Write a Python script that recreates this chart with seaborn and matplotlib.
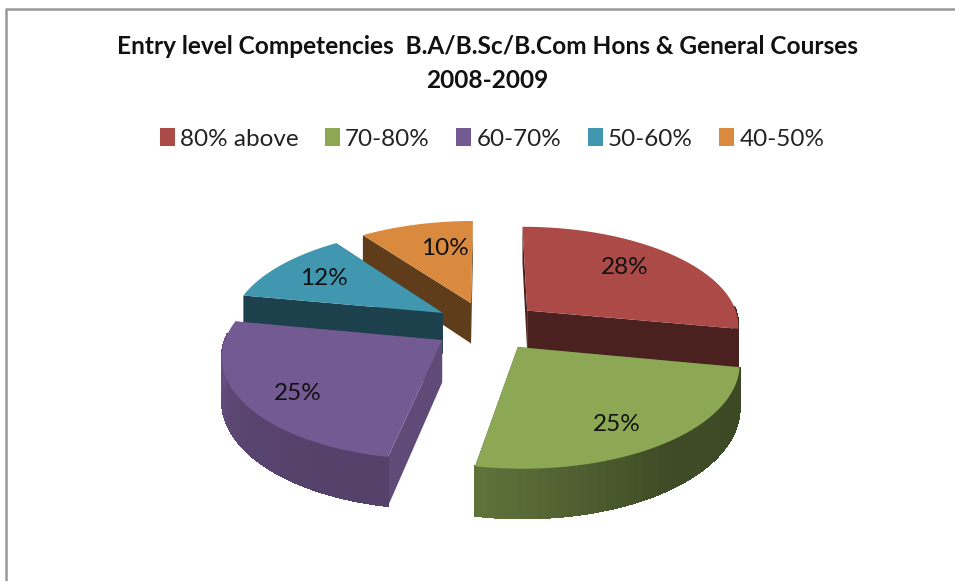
import numpy as np
import matplotlib
matplotlib.use("Agg")
import matplotlib.pyplot as plt
from matplotlib.patches import Patch, Polygon
import seaborn as sns

# chart data
categories = ["80% above", "70-80%", "60-70%", "50-60%", "40-50%"]
percents = [28, 25, 25, 12, 10]
colors = ["#AB4A47", "#8CA855", "#745A92", "#4197B0", "#D98A3E"]
title_lines = ["Entry level Competencies  B.A/B.Sc/B.Com Hons & General Courses", "2008-2009"]

# fake 3d pie setup, in pixels of the figure
cx, cy = 487, 326
rx, ry = 213, 99
persp = 0.135
explode = 0.25
depth = 0.42
draw_order = [4, 3, 0, 2, 1]
label_radius = [0.66, 0.78, 0.75, 0.70, 0.70]
label_nudge = [(-1, -5), (-10, 3), (1, 7), (-3, 0), (14, 2)]
# wall shade: radial wall, rim at start / middle / end of the slice
radial_shade = [0.44, 0.45, 0.82, 0.43, 0.44]
rim_shade = [(0.44, 0.44, 0.44), (0.43, 0.45, 0.68), (0.72, 0.76, 0.92), (0.43, 0.43, 0.43), (0.44, 0.44, 0.44)]

sns.set_style("white")
plt.rcParams["font.family"] = ["Lato", "DejaVu Sans"]


def project(u, v, drop=0.0):
    s = 1 / (1 - persp * v)
    return cx + rx * u * s, cy + ry * v * s + ry * drop * s


def shade(col, f):
    return tuple(c * f for c in matplotlib.colors.to_rgb(col))


fig = plt.figure(figsize=(9.55, 5.81), dpi=100)
ax = fig.add_axes([0, 0, 1, 1])
ax.set_xlim(0, 955)
ax.set_ylim(581, 0)
ax.axis("off")

# chart frame
ax.plot([6, 6, 955], [581, 9, 9], color="#989898", lw=1.8)

edges = np.cumsum([0] + percents) / sum(percents) * 2 * np.pi

for i in draw_order:
    a0, a1 = edges[i], edges[i + 1]
    mid = (a0 + a1) / 2
    z = draw_order.index(i) * 3
    ou, ov = explode * np.sin(mid), -explode * np.cos(mid)
    t = np.linspace(a0, a1, 40)
    us, vs = ou + np.sin(t), ov - np.cos(t)

    # radial walls, the back ones get covered by the top face
    for au, av in [(us[0], vs[0]), (us[-1], vs[-1])]:
        wall = [project(ou, ov), project(au, av), project(au, av, depth), project(ou, ov, depth)]
        ax.add_patch(Polygon(wall, fc=shade(colors[i], radial_shade[i]), ec="none", zorder=z + 1))

    # rim wall, a strip per step so that the shade can change
    for j in range(len(t) - 1):
        if abs(t[j] % (2 * np.pi) - np.pi) > np.pi / 2 + 0.05:
            continue
        f = np.interp(j, [0, (len(t) - 2) / 2, len(t) - 2], rim_shade[i])
        strip = [project(us[j], vs[j]), project(us[j + 1], vs[j + 1]),
                 project(us[j + 1], vs[j + 1], depth), project(us[j], vs[j], depth)]
        ax.add_patch(Polygon(strip, fc=shade(colors[i], f), ec=shade(colors[i], f), lw=0.8,
                             antialiased=False, zorder=z + 2))

    # top face
    top = [project(ou, ov)] + [project(a, b) for a, b in zip(us, vs)]
    ax.add_patch(Polygon(top, fc=colors[i], ec="none", zorder=z + 3))

    # percent label
    r = label_radius[i]
    lx, ly = project(ou + r * np.sin(mid), ov - r * np.cos(mid))
    ax.text(lx + label_nudge[i][0], ly + label_nudge[i][1], f"{percents[i]}%", ha="center", va="center",
            fontsize=17.5, color="#111111", zorder=30)

ax.text(487, 47, title_lines[0], ha="center", va="center", fontsize=17.6, fontweight="bold", color="#111111")
ax.text(487, 81, title_lines[1], ha="center", va="center", fontsize=17.6, fontweight="bold", color="#111111")

handles = [Patch(fc=c, ec="none") for c in colors]
ax.legend(handles, categories, loc="center", bbox_to_anchor=(492 / 955, 1 - 139 / 581), ncol=5,
          frameon=False, fontsize=17.5, handlelength=0.62, handleheight=0.7, handletextpad=0.2,
          columnspacing=1.1, labelcolor="#222222")

fig.savefig("out.png", dpi=100)
